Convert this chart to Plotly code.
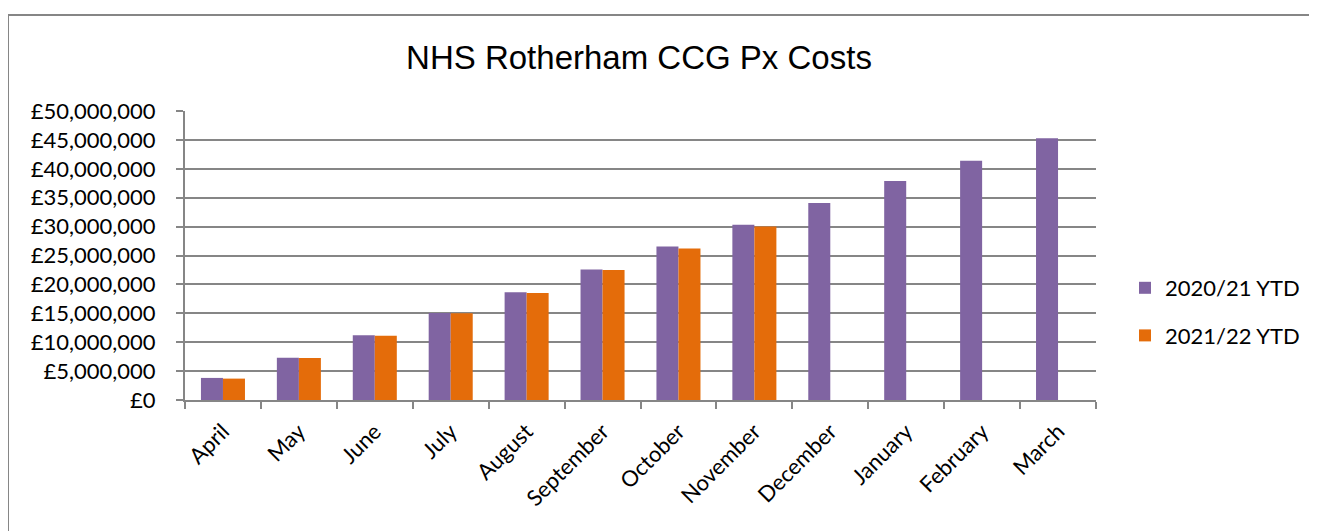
import plotly.graph_objects as go

months = ["April", "May", "June", "July", "August", "September", "October",
          "November", "December", "January", "February", "March"]
ytd_2020_21 = [3820000, 7290000, 11200000, 15040000, 18630000, 22570000, 26560000,
               30300000, 34100000, 37900000, 41400000, 45300000]
ytd_2021_22 = [3700000, 7270000, 11100000, 15000000, 18500000, 22500000, 26200000,
               30030000, None, None, None, None]

PURPLE = "#8064A2"
ORANGE = "#E46C0A"
GRID = "#868686"
TICKFONT = dict(family="Lato, Carlito, Calibri, sans-serif", size=22, color="#000000")

fig = go.Figure()
fig.add_trace(go.Bar(x=months, y=ytd_2020_21, name="2020/21 YTD",
                     marker=dict(color=PURPLE, line=dict(width=0)), legendgroup="a"))
fig.add_trace(go.Bar(x=months, y=ytd_2021_22, name="2021/22 YTD",
                     marker=dict(color=ORANGE, line=dict(width=0)), legendgroup="b"))

# page is offset by the 8px body margin
OFF = 8
L, R, T, B = 185 - OFF, 1096 - OFF, 111 - OFF, 400 - OFF
W, H = 1317, 531
pw, ph = R - L, B - T

fig.update_layout(
    width=W, height=H,
    margin=dict(l=L, r=W - R, t=T, b=H - B, pad=0),
    paper_bgcolor="white", plot_bgcolor="white",
    barmode="group", bargap=0.42, bargroupgap=0,
    title=dict(text="NHS Rotherham CCG Px Costs", x=(639 - OFF) / W, xanchor="center",
               y=1 - (57 - OFF) / H, yanchor="middle",
               font=dict(family="Liberation Sans, Arial, sans-serif", size=33, color="#000000")),
    legend=dict(x=(1125 - OFF - L) / pw, xanchor="left", y=(B - (312 - OFF)) / ph, yanchor="middle",
                font=TICKFONT, traceorder="grouped", tracegroupgap=16,
                bgcolor="rgba(0,0,0,0)", itemwidth=30),
    showlegend=True,
)

fig.update_xaxes(
    type="category", tickangle=-45, tickfont=TICKFONT,
    showline=True, linecolor=GRID, linewidth=2,
    ticks="outside", tickson="boundaries", ticklen=7, tickwidth=2, tickcolor=GRID,
    showgrid=False, zeroline=False, ticklabelstandoff=8,
)
fig.update_yaxes(
    range=[0, 50000000], dtick=5000000, tick0=0,
    tickprefix="£", tickformat=",.0f", tickfont=TICKFONT,
    showline=True, linecolor=GRID, linewidth=2,
    ticks="outside", ticklen=7, tickwidth=2, tickcolor=GRID,
    showgrid=True, gridcolor=GRID, gridwidth=2,
    zeroline=False, ticklabelstandoff=16,
)

# outer chart border
fig.add_shape(type="rect", xref="paper", yref="paper",
              x0=(8 - OFF - L) / pw, x1=(1340 - L) / pw,
              y0=(B - 560) / ph, y1=(B - (15 - OFF)) / ph,
              line=dict(color=GRID, width=2), fillcolor="rgba(0,0,0,0)", layer="below")

fig.write_html("out.html")
